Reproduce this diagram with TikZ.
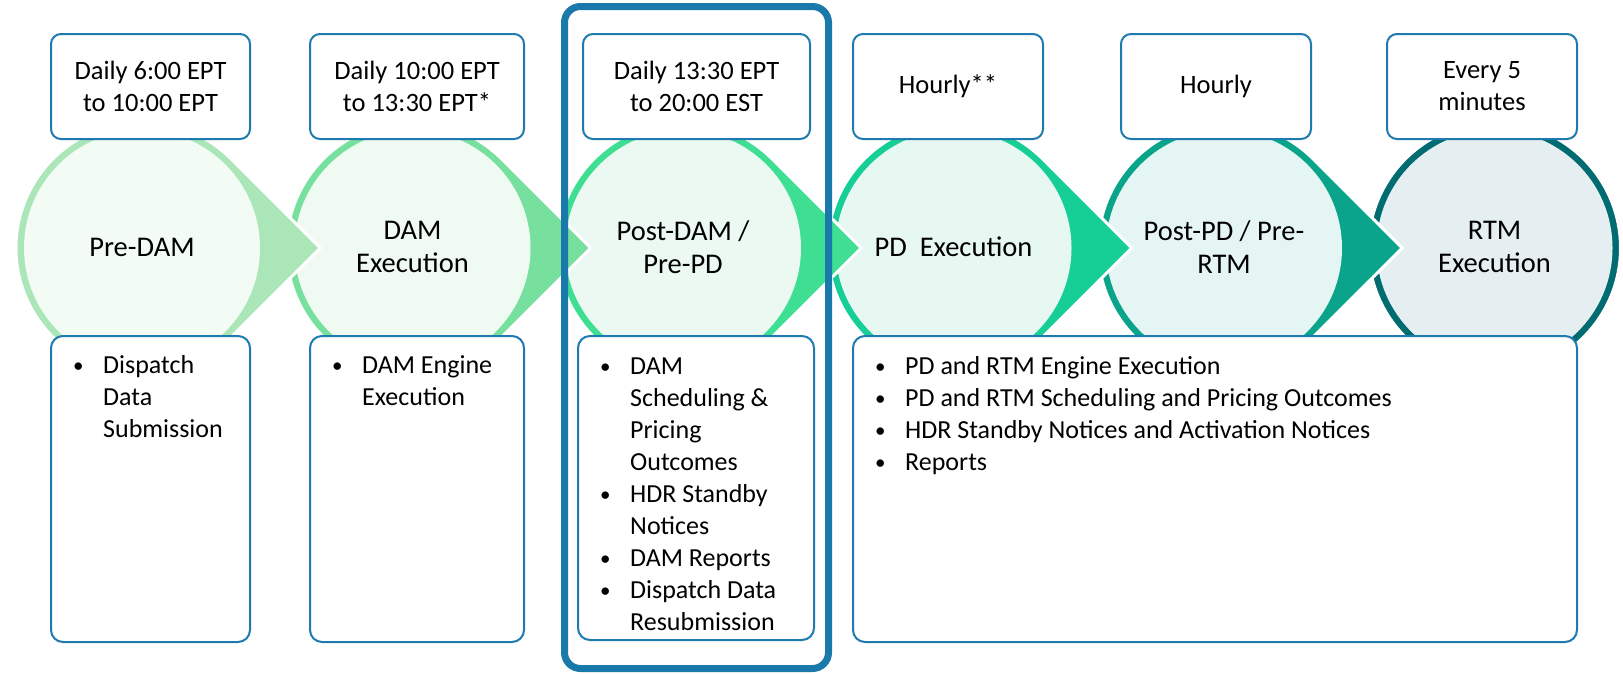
\documentclass[tikz,border=0pt]{standalone}
\usepackage{fontspec}
\setmainfont{Carlito}
\definecolor{boxblue}{RGB}{30,122,175}
\definecolor{hlblue}{RGB}{24,121,170}
\definecolor{ringA}{RGB}{170,230,184}
\definecolor{ringB}{RGB}{120,224,158}
\definecolor{ringC}{RGB}{62,223,146}
\definecolor{ringD}{RGB}{22,207,151}
\definecolor{ringE}{RGB}{10,164,139}
\definecolor{ringF}{RGB}{0,108,114}
\definecolor{innA}{RGB}{243,251,245}
\definecolor{innB}{RGB}{239,250,243}
\definecolor{innC}{RGB}{235,249,242}
\definecolor{innD}{RGB}{231,248,243}
\definecolor{innE}{RGB}{229,245,244}
\definecolor{innF}{RGB}{229,238,240}
\newcommand\Rout{126}
\newcommand\Rin{118}
\newcommand\cyy{248}
\newcommand\stagering[3]{%
  \filldraw[fill=#2, draw=white, line width=3pt, line join=miter]
    ({#1+0.7071*\Rout},{\cyy-0.7071*\Rout}) -- ({#1+1.4142*\Rout},\cyy)
    -- ({#1+0.7071*\Rout},{\cyy+0.7071*\Rout})
    arc[start angle=45, end angle=315, radius=\Rout] -- cycle;
  \fill[#3] (#1,\cyy) circle[radius=\Rin];}
\newcommand\stagelast[3]{%
  \fill[#2, draw=white, line width=3pt] (#1,\cyy) circle[radius=\Rout];
  \fill[#3] (#1,\cyy) circle[radius=\Rin];}
\newcommand\bul[1]{\rule{0pt}{26pt}\makebox[53pt][l]{\hspace{23pt}\raisebox{1pt}{\fontsize{21}{21}\selectfont •}}#1}
\newcommand\cont[1]{\hspace*{53pt}#1}
\begin{document}
\begin{tikzpicture}[x=1pt,y=-1pt,
  topbox/.style={draw=boxblue, line width=2pt, fill=white, rounded corners=10pt, align=center,
    inner sep=0pt, font=\fontsize{26.5}{32}\selectfont, minimum height=105pt},
  botbox/.style={draw=boxblue, line width=2pt, fill=white, rounded corners=12pt, inner sep=0pt},
  bottext/.style={anchor=north west, inner sep=0pt, align=left, font=\fontsize{26}{32}\selectfont},
  stagelabel/.style={align=center, inner sep=0pt, font=\fontsize{28.5}{33}\selectfont},
  hlframe/.style={draw=hlblue, line width=7pt, rounded corners=16pt, inner sep=0pt}]
\useasboundingbox (0,0) rectangle (1623,673);
% stage shapes, drawn from last to first so each point lies over the next circle
\stagelast{1494.5}{ringF}{innF}
\stagering{1224}{ringE}{innE}
\stagering{953.5}{ringD}{innD}
\stagering{683}{ringC}{innC}
\stagering{412.5}{ringB}{innB}
\stagering{142}{ringA}{innA}
% stage labels
\node[stagelabel] (c1) at (142,247) {Pre-DAM};
\node[stagelabel] (c2) at (412.5,247) {DAM\\Execution};
\node[stagelabel] (c3) at (683,247) {Post-DAM /\\Pre-PD};
\node[stagelabel] (c4) at (953.5,247) {PD~\ Execution};
\node[stagelabel] (c5) at (1224,247) {Post-PD / Pre-\\RTM};
\node[stagelabel] (c6) at (1494.5,247) {RTM\\Execution};
% top boxes
\node[topbox, minimum width=199pt] (t1) at (150.5,86.5) {Daily 6:00 EPT\\to 10:00 EPT};
\node[topbox, minimum width=214pt] (t2) at (417,86.5) {Daily 10:00 EPT\\to 13:30 EPT*};
\node[topbox, minimum width=227pt] (t3) at (696.5,86.5) {Daily 13:30 EPT\\to 20:00 EST};
\node[topbox, minimum width=190pt] (t4) at (948,86.5) {Hourly**};
\node[topbox, minimum width=190pt] (t5) at (1216,86.5) {Hourly};
\node[topbox, minimum width=190pt] (t6) at (1482,86.5) {Every 5\\minutes};
% bottom boxes
\node[botbox, minimum width=199pt, minimum height=306pt] (b1) at (150.5,489) {};
\node[botbox, minimum width=214pt, minimum height=306pt] (b2) at (417,489) {};
\node[botbox, minimum width=236pt, minimum height=304pt] (b3) at (696,488) {};
\node[botbox, minimum width=724pt, minimum height=306pt] (b4) at (1215,489) {};
\node[bottext] (b1t) at ([yshift=-12pt]b1.north west) {\bul{Dispatch}\\\cont{Data}\\\cont{Submission}};
\node[bottext] (b2t) at ([yshift=-12pt]b2.north west) {\bul{DAM Engine}\\\cont{Execution}};
\node[bottext] (b3t) at ([yshift=-13pt]b3.north west) {\bul{DAM}\\\cont{Scheduling \&}\\\cont{Pricing}\\\cont{Outcomes}\\\bul{HDR Standby}\\\cont{Notices}\\\bul{DAM Reports}\\\bul{Dispatch Data}\\\cont{Resubmission}};
\node[bottext] (b4t) at ([yshift=-13pt]b4.north west) {\bul{PD and RTM Engine Execution}\\\bul{PD and RTM Scheduling and Pricing Outcomes}\\\bul{HDR Standby Notices and Activation Notices}\\\bul{Reports}};
% highlight frame
\node[hlframe, minimum width=264pt, minimum height=662pt] (hl) at (696.5,337.5) {};
\end{tikzpicture}
\end{document}
